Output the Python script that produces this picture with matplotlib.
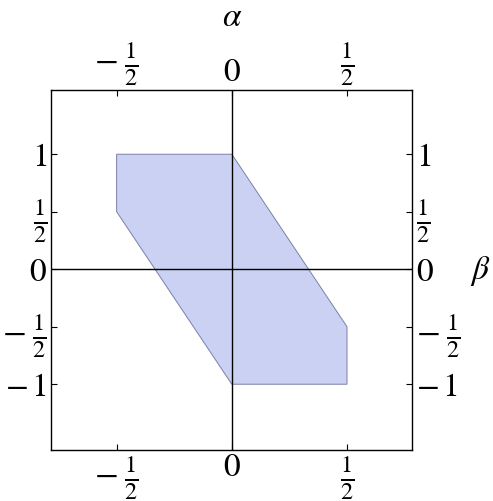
import matplotlib
matplotlib.use('Agg')
import matplotlib.pyplot as plt
import matplotlib.transforms as mtransforms

# polygon corners (alpha, beta)
alpha_pts = [-0.5, 0.0, 0.5, 0.5, 0.0, -0.5]
beta_pts = [1.0, 1.0, -0.5, -1.0, -1.0, 0.5]

x_ticks = [-0.5, 0.0, 0.5]
x_labels = [r'$-\;\frac{1}{2}$', r'$0$', r'$\frac{1}{2}$']
y_ticks = [-1.0, -0.5, 0.0, 0.5, 1.0]
y_labels = [r'$-\,1$', r'$-\;\frac{1}{2}$', r'$0$', r'$\frac{1}{2}$', r'$1$']

plt.rcParams['mathtext.fontset'] = 'stix'
plt.rcParams['font.family'] = 'STIXGeneral'

fig = plt.figure(figsize=(4.93, 5.02), dpi=100)
ax = fig.add_axes([0.1034, 0.1016, 0.7313, 0.717])

ax.fill(alpha_pts, beta_pts, facecolor='#cbd1f3', edgecolor='#7a80a8', linewidth=0.7)
ax.axvline(0, color='black', linewidth=1.0)
ax.axhline(0, color='black', linewidth=1.0)

ax.set_xlim(-0.785, 0.78)
ax.set_ylim(-1.572, 1.558)

ax.set_xticks(x_ticks)
ax.set_yticks(y_ticks)
ax.tick_params(direction='in', length=4, width=0.8, labelsize=24,
               top=True, right=True, labeltop=True, labelright=True, pad=3)
ax.tick_params(axis='x', which='major', pad=2)
ax.set_xticklabels(x_labels)
ax.set_yticklabels(y_labels)

# fractions print a bit larger than the integers
def bump(labels):
    for t in labels:
        if 'frac' in t.get_text():
            t.set_fontsize(25)

for tk in ax.xaxis.get_major_ticks() + ax.yaxis.get_major_ticks():
    bump([tk.label1, tk.label2])

for s in ax.spines.values():
    s.set_linewidth(1.0)

trans = mtransforms.blended_transform_factory(ax.transData, ax.transAxes)
ax.text(0, 1.203, r'$\alpha$', transform=trans, fontsize=24,
        ha='center', va='center')
ax.text(1.19, 0.5, r'$\beta$', transform=ax.transAxes, fontsize=24,
        ha='center', va='center')

fig.savefig('out.png', dpi=100)
